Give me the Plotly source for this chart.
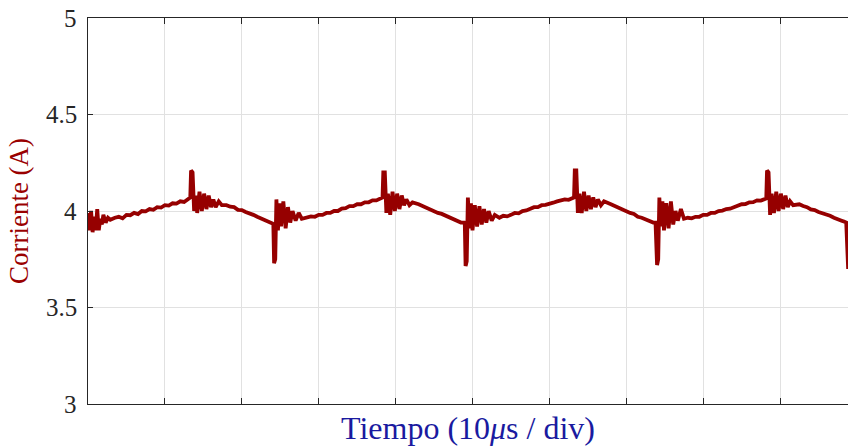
import plotly.graph_objects as go

# Time (microseconds) and current (A)
t_us = [
    0.0, 0.2, 0.4, 0.6, 0.8, 1.0, 1.2, 1.4, 1.6, 1.8, 2.0, 2.3, 2.6, 2.9,
    3.5, 4.0, 4.5, 5.0, 5.5, 6.0, 6.5, 7.0, 7.5, 8.0, 8.5, 9.0, 9.5, 10.0,
    10.5, 11.0, 11.5, 12.0, 12.5, 13.0, 13.3,
    13.4, 13.6, 13.8, 14.0, 14.2, 14.5, 14.8, 15.1, 15.4, 15.7, 16.0, 16.3, 16.6, 17.0, 17.4,
    18.0, 18.5, 19.0, 19.5, 20.0, 20.5, 21.0, 21.5, 22.0, 22.5, 23.0, 23.5, 24.0, 24.1,
    24.2, 24.35, 24.5, 24.7, 24.9, 25.1, 25.4, 25.7, 26.0, 26.3, 26.6, 27.0, 27.4, 27.8,
    28.5, 29.0, 29.5, 30.0, 30.5, 31.0, 31.5, 32.0, 32.5, 33.0, 33.5, 34.0, 34.5, 35.0,
    35.5, 36.0, 36.5, 37.0, 37.5, 38.1, 38.3,
    38.4, 38.6, 38.8, 39.0, 39.3, 39.6, 39.9, 40.2, 40.5, 40.8, 41.1, 41.4, 41.8, 42.2,
    43.0, 43.5, 44.0, 44.5, 45.0, 45.5, 46.0, 46.5, 47.0, 47.5, 48.0, 48.5, 48.9, 49.0,
    49.1, 49.25, 49.4, 49.6, 49.8, 50.0, 50.3, 50.6, 50.9, 51.2, 51.5, 51.8, 52.1, 52.5, 52.9,
    53.5, 54.0, 54.5, 55.0, 55.5, 56.0, 56.5, 57.0, 57.5, 58.0, 58.5, 59.0, 59.5, 60.0,
    60.5, 61.0, 61.5, 62.0, 62.5, 63.2,
    63.3, 63.5, 63.7, 63.9, 64.2, 64.5, 64.8, 65.1, 65.4, 65.7, 66.0, 66.3, 66.7, 67.1,
    68.0, 68.5, 69.0, 69.5, 70.0, 70.5, 71.0, 71.5, 72.0, 72.5, 73.0, 73.5, 73.8,
    74.0, 74.15, 74.3, 74.5, 74.7, 74.9, 75.2, 75.5, 75.8, 76.1, 76.4, 76.7, 77.1, 77.5,
    78.0, 78.5, 79.0, 79.5, 80.0, 80.5, 81.0, 81.5, 82.0, 82.5, 83.0, 83.5, 84.0, 84.5,
    85.0, 85.5, 86.0, 86.5, 87.0, 87.5, 88.0, 88.2,
    88.3, 88.5, 88.7, 88.9, 89.2, 89.5, 89.8, 90.1, 90.4, 90.7, 91.0, 91.3, 91.7,
    92.5, 93.0, 93.5, 94.0, 94.5, 95.0, 95.5, 96.0, 96.5, 97.0, 97.5, 98.0, 98.3, 98.6, 98.85,
]
corriente_a = [
    3.99, 3.90, 4.00, 3.89, 3.97, 3.90, 4.01, 3.90, 3.96, 3.93, 3.98, 3.94, 3.965, 3.955,
    3.965, 3.97, 3.962, 3.98, 3.978, 3.99, 3.984, 4.00, 3.998, 4.01, 4.006, 4.02, 4.018, 4.03,
    4.028, 4.04, 4.038, 4.05, 4.047, 4.06, 4.07,
    4.21, 4.20, 4.00, 4.08, 3.99, 4.10, 4.00, 4.09, 4.01, 4.08, 4.02, 4.06, 4.02, 4.05, 4.03,
    4.03, 4.022, 4.02, 4.006, 4.005, 3.995, 3.99, 3.98, 3.97, 3.962, 3.955, 3.944, 3.935, 3.93,
    3.73, 3.75, 4.06, 3.90, 4.04, 3.92, 4.05, 3.91, 4.02, 3.94, 4.00, 3.95, 3.99, 3.96,
    3.965, 3.972, 3.97, 3.98, 3.98, 3.99, 3.99, 4.00, 4.00, 4.012, 4.015, 4.025, 4.025, 4.035,
    4.035, 4.045, 4.045, 4.055, 4.055, 4.065, 4.07,
    4.20, 4.20, 3.99, 4.09, 3.98, 4.10, 4.00, 4.09, 4.01, 4.08, 4.03, 4.06, 4.03, 4.045,
    4.035, 4.026, 4.02, 4.006, 4.00, 3.99, 3.985, 3.975, 3.97, 3.956, 3.95, 3.94, 3.94, 3.93,
    3.715, 3.74, 4.07, 3.91, 4.04, 3.90, 4.03, 3.92, 4.025, 3.93, 4.01, 3.94, 4.00, 3.95, 3.98,
    3.965, 3.975, 3.972, 3.98, 3.99, 3.988, 4.00, 4.003, 4.01, 4.02, 4.02, 4.03, 4.032, 4.04,
    4.043, 4.05, 4.053, 4.06, 4.058, 4.07,
    4.21, 4.21, 3.99, 4.09, 3.99, 4.10, 4.00, 4.08, 4.01, 4.07, 4.02, 4.06, 4.03, 4.05,
    4.035, 4.025, 4.02, 4.005, 4.00, 3.99, 3.985, 3.97, 3.965, 3.955, 3.95, 3.94, 3.94,
    3.72, 3.75, 4.07, 3.92, 4.05, 3.90, 4.04, 3.91, 4.05, 3.93, 4.00, 3.95, 4.01, 3.96,
    3.965, 3.962, 3.97, 3.97, 3.98, 3.98, 3.99, 3.99, 4.00, 4.002, 4.01, 4.012, 4.02, 4.027,
    4.035, 4.036, 4.045, 4.046, 4.055, 4.054, 4.06, 4.065,
    4.21, 4.20, 3.98, 4.09, 3.99, 4.10, 4.00, 4.09, 4.01, 4.08, 4.02, 4.05, 4.03,
    4.035, 4.026, 4.02, 4.008, 4.005, 3.995, 3.99, 3.98, 3.975, 3.965, 3.96, 3.95, 3.945, 3.94, 3.70,
]

y_ticks = [3, 3.5, 4, 4.5, 5]
y_tick_labels = ["3", "3.5", "4", "4.5", "5"]
x_grid_us = [10, 20, 30, 40, 50, 60, 70, 80, 90]

serif = "Liberation Serif"
axis_color = "#262626"

fig = go.Figure()
fig.add_trace(go.Scatter(
    x=t_us, y=corriente_a, mode="lines",
    line=dict(color="#960000", width=3.8),
    hoverinfo="skip", showlegend=False,
))

# y tick labels drawn as annotations positioned on the y scale (serif font)
for val, lab in zip(y_ticks, y_tick_labels):
    fig.add_annotation(
        x=0, xref="paper", y=val, yref="y", text=lab, showarrow=False,
        xanchor="right", yanchor="middle", xshift=-9,
        font=dict(family=serif, size=25, color=axis_color),
    )

fig.update_layout(
    width=848, height=448,
    margin=dict(l=88, r=0, t=18, b=44),
    paper_bgcolor="white", plot_bgcolor="white",
    xaxis=dict(
        range=[0, 98.83], tickvals=x_grid_us, showticklabels=False,
        ticks="inside", ticklen=6, tickcolor=axis_color, tickwidth=1,
        showgrid=True, gridcolor="#e1e1e1", gridwidth=1,
        showline=True, linecolor=axis_color, linewidth=1, mirror="allticks",
        zeroline=False,
        title=dict(text="Tiempo (10<i>μ</i>s / div)", standoff=12,
                   font=dict(family=serif, size=32, color="#1a1aa0")),
    ),
    yaxis=dict(
        range=[3, 5], tickvals=y_ticks, showticklabels=False,
        ticks="inside", ticklen=5, tickcolor=axis_color, tickwidth=1,
        showgrid=True, gridcolor="#e1e1e1", gridwidth=1,
        showline=True, linecolor=axis_color, linewidth=1, mirror=False,
        zeroline=False, automargin=False,
        title=dict(text="Corriente (A)", standoff=50,
                   font=dict(family=serif, size=27, color="#990000")),
    ),
)

fig.write_html("out.html")
